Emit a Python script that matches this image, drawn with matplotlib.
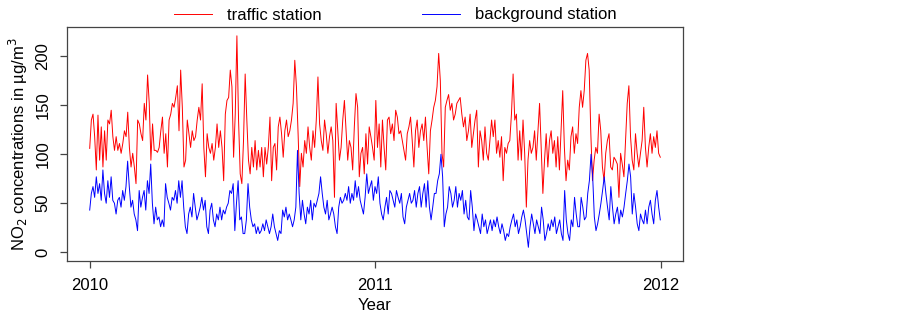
import numpy as np
import pandas as pd
import matplotlib
matplotlib.use("Agg")
import matplotlib.pyplot as plt

# NO2 daily means, 2010-01-01 .. 2011-12-31 (roughly every 2 days)
traffic = [106, 135, 141, 118, 84, 140, 94, 128, 87, 124, 94, 135, 131, 145, 118, 104, 118, 104, 111, 101,
           111, 124, 118, 143, 107, 87, 101, 87, 70, 135, 131, 121, 114, 152, 135, 181, 152, 94, 131, 104,
           104, 102, 107, 124, 138, 101, 121, 87, 135, 141, 152, 148, 158, 170, 124, 186, 148, 87, 94, 135,
           121, 107, 124, 114, 118, 135, 148, 135, 172, 107, 77, 121, 107, 101, 111, 94, 107, 131, 107, 124,
           107, 73, 141, 155, 158, 186, 169, 97, 141, 221,
           135, 80, 70, 114, 182, 135, 94, 80, 107, 87, 114, 84, 104, 87, 107, 77, 107, 90, 107, 138,
           73, 107, 111, 84, 128, 138, 121, 97, 124, 135, 118, 124, 135, 152, 196, 169, 121, 67, 101, 87,
           114, 101, 128, 107, 94, 124, 107, 135, 179, 131, 114, 104, 135, 121, 101, 118, 128, 114, 56, 152,
           124, 94, 107, 135, 155, 124, 94, 114, 107, 84, 128, 162, 148, 77, 101, 107, 80, 121, 90, 128,
           118, 107, 94, 155, 107, 131, 87, 135, 107, 84, 135, 138, 121, 131, 114, 145, 138, 121, 124, 114,
           104, 94, 121, 128,
           138, 114, 87, 124, 135, 107, 124, 131, 114, 138, 107, 80, 124, 135, 148, 155, 169, 203, 175, 101,
           87, 148, 155, 161, 145, 152, 135, 141, 152, 155, 158, 141, 128, 138, 114, 124, 141, 107, 121, 135,
           145, 87, 124, 114, 94, 128, 101, 94, 114, 135, 118, 135, 101, 114, 97, 118, 73, 107, 101, 111,
           114, 141, 182, 135, 141, 94, 124, 94, 135, 101, 46, 94, 114, 101, 107, 124, 94, 124, 152, 107,
           60, 94, 121, 87, 114, 124, 101, 114, 87, 118, 84, 124, 165, 107, 73, 94, 84, 118, 128, 101,
           121,
           111, 148, 165, 148, 165, 196, 203, 186, 121, 73, 94, 107, 101, 141, 124, 87, 73, 101, 114, 121,
           87, 84, 97, 94, 90, 56, 101, 90, 77, 114, 152, 170, 118, 94, 84, 121, 101, 87, 101, 114,
           148, 107, 87, 107, 121, 101, 118, 107, 124, 101, 97]

background = [43, 60, 67, 56, 77, 60, 70, 53, 84, 60, 50, 73, 56, 77, 53, 50, 39, 53, 56, 46,
              63, 53, 67, 93, 67, 46, 53, 39, 33, 22, 63, 46, 56, 63, 43, 73, 60, 90, 50, 29,
              46, 33, 36, 26, 33, 26, 70, 56, 50, 43, 56, 53, 63, 50, 73, 56, 73, 46, 26, 19,
              39, 46, 36, 60, 46, 33, 39, 46, 56, 43, 53, 26, 19, 43, 50, 33, 26, 39, 33, 46,
              33, 43, 39, 46, 50, 63, 60, 70, 22, 50, 73, 33,
              36, 19, 19, 33, 70, 46, 33, 26, 29, 19, 26, 19, 22, 29, 22, 33, 26, 19, 26, 39,
              26, 19, 12, 22, 19, 43, 36, 46, 33, 39, 33, 26, 33, 46, 104, 60, 33, 53, 39, 29,
              46, 39, 53, 33, 50, 46, 53, 60, 77, 60, 46, 39, 53, 33, 39, 46, 39, 26, 19, 46,
              56, 50, 53, 60, 53, 67, 50, 60, 53, 73, 56, 67, 53, 46, 39, 56, 80, 60, 67, 73,
              53, 67, 60, 77, 50, 39, 33, 46, 56, 39, 63, 60, 53, 46, 63, 56, 50, 60, 36, 29,
              46, 53, 60, 50,
              53, 63, 46, 60, 67, 46, 60, 70, 46, 73, 46, 33, 46, 60, 60, 73, 80, 100, 77, 26,
              39, 46, 67, 60, 46, 53, 67, 46, 60, 53, 63, 39, 53, 36, 33, 63, 46, 22, 39, 33,
              26, 19, 39, 26, 33, 19, 26, 33, 22, 33, 26, 36, 26, 19, 29, 22, 12, 19, 16, 26,
              33, 39, 26, 33, 19, 26, 36, 43, 33, 19, 5, 26, 39, 29, 19, 33, 26, 19, 46, 33,
              12, 19, 29, 22, 33, 26, 36, 19, 26, 33, 19, 12, 63, 33, 19, 12, 33, 26, 56, 39,
              26,
              26, 56, 46, 33, 36, 60, 73, 100, 77, 36, 22, 29, 39, 50, 63, 77, 60, 46, 33, 67,
              46, 29, 39, 46, 29, 43, 36, 46, 60, 73, 90, 77, 39, 60, 46, 29, 22, 39, 33, 29,
              43, 29, 46, 53, 39, 29, 53, 63, 46, 33]

year_ticks = ["2010", "2011", "2012"]

plt.rcParams['font.family'] = ['Liberation Sans', 'DejaVu Sans']
plt.rcParams['font.size'] = 12

start = pd.Timestamp("2010-01-01")
end = pd.Timestamp("2011-12-31")
t_traffic = pd.date_range(start, end, periods=len(traffic))
t_back = pd.date_range(start, end, periods=len(background))

fig = plt.figure(figsize=(9.03, 3.17), dpi=100)
ax = fig.add_axes([67 / 903, 1 - 261 / 317, (683 - 67) / 903, (261 - 27) / 317])

ax.plot(t_traffic, traffic, color='#ff0000', lw=0.7, label='traffic station')
ax.plot(t_back, background, color='#0000ff', lw=0.7, label='background station')

pad = pd.Timedelta(days=29)
ax.set_xlim(start - pad, end + pad)
ax.set_ylim(-9, 230)

ax.set_xticks([pd.Timestamp(y + "-01-01") for y in year_ticks])
ax.set_xticklabels(year_ticks)
ax.set_yticks([0, 50, 100, 150, 200])
ax.set_yticklabels(['0', '50', '100', '150', '200'], rotation=90, va='center')

for s in ax.spines.values():
    s.set_color('#444444')
    s.set_linewidth(0.9)
ax.tick_params(direction='out', length=5, width=0.9, color='#444444')
ax.tick_params(axis='x', pad=7)
ax.tick_params(axis='y', pad=7)

ax.set_xlabel('Year', labelpad=4)
ax.set_ylabel('NO$_2$ concentrations in µg/m$^3$', labelpad=4)

# legend sits in the top margin, centred around y = 13 px
ax.legend(loc='center', bbox_to_anchor=(0.533, 1 + 12 / 234), ncol=2, frameon=False,
          handlelength=2.3, handletextpad=0.9, columnspacing=6.0, borderaxespad=0)

fig.savefig('out.png', dpi=100)
